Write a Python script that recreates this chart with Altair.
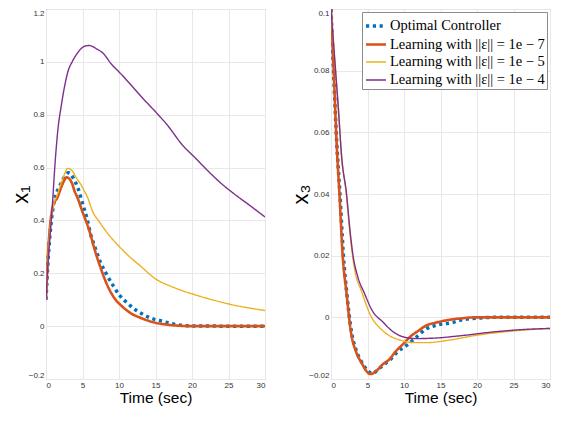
import altair as alt
import pandas as pd

series = [
    "Optimal Controller",
    "Learning with ||ε|| = 1e − 7",
    "Learning with ||ε|| = 1e − 5",
    "Learning with ||ε|| = 1e − 4",
]
colors = ["#0072BD", "#D95319", "#EDB120", "#7E2F8E"]
dashes = [[3.2, 3.6], [1, 0], [1, 0], [1, 0]]
widths = [3.5, 2.6, 1.4, 1.4]

# ---- x1 panel ----
opt_t1 = [0, 0.3, 0.7, 1.15, 1.82, 2.49, 3.1, 3.82, 4.4, 5.0, 5.64, 6.1, 6.76, 7.4, 8.3, 9.2, 10.1, 11.2, 12.3, 13.4, 14.3, 16, 17.8, 20, 25, 30]
opt_v1 = [0.1, 0.256, 0.39, 0.477, 0.526, 0.563, 0.58, 0.556, 0.52, 0.465, 0.404, 0.349, 0.294, 0.245, 0.196, 0.153, 0.116, 0.086, 0.061, 0.043, 0.031, 0.018, 0.006, 0.001, 0.0, 0.0]

r7_t1 = [0, 0.35, 0.62, 0.93, 1.6, 2.27, 2.84, 3.6, 3.87, 4.27, 4.98, 5.87, 6.76, 7.64, 8.53, 9.42, 10.5, 11.6, 13.0, 14.3, 15.1, 16.5, 18, 20, 25, 30]
r7_v1 = [0.1, 0.306, 0.397, 0.452, 0.489, 0.538, 0.563, 0.538, 0.514, 0.489, 0.434, 0.367, 0.281, 0.208, 0.147, 0.104, 0.073, 0.049, 0.031, 0.018, 0.012, 0.006, 0.002, 0.0, 0.0, 0.0]

r5_t1 = [0, 0.3, 0.6, 0.93, 1.6, 2.27, 3.02, 3.6, 4.27, 4.8, 5.2, 5.8, 6.3, 7.4, 8.5, 9.87, 11.2, 13.0, 15.1, 17, 18.7, 20.5, 22.2, 24, 25.8, 28, 30]
r5_v1 = [0.1, 0.27, 0.38, 0.445, 0.501, 0.556, 0.597, 0.587, 0.556, 0.535, 0.514, 0.48, 0.44, 0.391, 0.349, 0.306, 0.269, 0.226, 0.177, 0.152, 0.134, 0.118, 0.104, 0.091, 0.079, 0.068, 0.059]

r4_t1 = [0, 0.3, 0.6, 0.9, 1.2, 1.64, 2.08, 2.53, 2.97, 3.64, 4.3, 5.2, 5.87, 7.0, 7.8, 9.0, 10.0, 11.5, 13.0, 15.1, 16.5, 18.7, 20.5, 22.2, 24.0, 25.8, 28.0, 30.0]
r4_v1 = [0.1, 0.25, 0.36, 0.47, 0.6, 0.746, 0.832, 0.905, 0.96, 1.003, 1.033, 1.058, 1.062, 1.048, 1.033, 0.99, 0.962, 0.917, 0.87, 0.808, 0.765, 0.685, 0.635, 0.587, 0.54, 0.50, 0.455, 0.413]

# ---- x3 panel ----
opt_t3 = [0, 0.4, 0.8, 1.2, 1.7, 2.2, 2.75, 3.5, 4.2, 4.9, 5.7, 6.5, 7.3, 8.2, 9.1, 10.4, 11.5, 13, 14.5, 16.6, 18, 20.6, 22, 25, 30]
opt_v3 = [0.1, 0.077, 0.056, 0.041, 0.02, 0.007, -0.004, -0.011, -0.0145, -0.017, -0.0182, -0.0168, -0.0152, -0.0135, -0.0112, -0.009, -0.0068, -0.0038, -0.0025, -0.0017, -0.0008, -0.0002, 0, 0, 0]

r7_t3 = [0, 0.4, 0.8, 1.16, 1.6, 2.13, 2.67, 3.5, 4.2, 4.84, 5.4, 6.2, 7.07, 7.96, 8.84, 9.96, 10.8, 12, 13, 14.4, 15.3, 16.8, 18, 19.7, 25, 30]
r7_v3 = [0.1, 0.078, 0.055, 0.04, 0.02, 0.0078, -0.0038, -0.0116, -0.0148, -0.0174, -0.0184, -0.0174, -0.0153, -0.0137, -0.0111, -0.0085, -0.0064, -0.0043, -0.0027, -0.0017, -0.0012, -0.0006, -0.0003, 0, 0, 0]

r5_t3 = [0, 0.5, 1, 1.47, 2.1, 2.55, 3.0, 3.3, 4.13, 5.47, 6.84, 7.96, 9.5, 11.3, 13.1, 16.2, 19.7, 24.2, 30]
r5_v3 = [0.1, 0.084, 0.068, 0.0515, 0.04, 0.0283, 0.0192, 0.0148, 0.0088, 0.0004, -0.0038, -0.0059, -0.0074, -0.0082, -0.0082, -0.0074, -0.0059, -0.0046, -0.0036]

r4_t3 = [0, 0.5, 1, 1.47, 2.13, 2.58, 3.02, 3.69, 4.58, 5.69, 7.1, 8.4, 10, 11.7, 14.4, 18, 22, 26, 30]
r4_v3 = [0.1, 0.084, 0.068, 0.0518, 0.04, 0.0287, 0.02, 0.013, 0.0078, 0.002, -0.0015, -0.0045, -0.0064, -0.0069, -0.0067, -0.0059, -0.0048, -0.004, -0.0036]

x_ticks = [0, 5, 10, 15, 20, 25, 30]
y1_ticks = [-0.2, 0, 0.2, 0.4, 0.6, 0.8, 1, 1.2]
y3_ticks = [-0.02, 0, 0.02, 0.04, 0.06, 0.08, 0.1]


def frame(pairs):
    rows = []
    for k, (ts, vs) in enumerate(pairs):
        for i, (t, v) in enumerate(zip(ts, vs)):
            rows.append({"t": t, "v": v, "series": series[k], "k": k, "i": i})
    return pd.DataFrame(rows)


df1 = frame([(opt_t1, opt_v1), (r7_t1, r7_v1), (r5_t1, r5_v1), (r4_t1, r4_v1)])
df3 = frame([(opt_t3, opt_v3), (r7_t3, r7_v3), (r5_t3, r5_v3), (r4_t3, r4_v3)])

W, H = 219, 370


def panel(df, ydom, yticks, ytitle, legend):
    return alt.Chart(df).mark_line(interpolate="monotone", strokeCap="butt", clip=True).encode(
        x=alt.X("t:Q", scale=alt.Scale(domain=[0, 30], nice=False),
                axis=alt.Axis(values=x_ticks, title="Time (sec)", format="~g")),
        y=alt.Y("v:Q", scale=alt.Scale(domain=ydom, nice=False, zero=False),
                axis=alt.Axis(values=yticks, title=ytitle, format="~g", labelFlush=True)),
        color=alt.Color("series:N", scale=alt.Scale(domain=series, range=colors), legend=legend),
        strokeDash=alt.StrokeDash("series:N", scale=alt.Scale(domain=series, range=dashes), legend=legend),
        strokeWidth=alt.StrokeWidth("series:N", scale=alt.Scale(type="ordinal", domain=series, range=widths), legend=legend),
        order=alt.Order("i:Q"),
    ).properties(width=W, height=H)


leg = alt.Legend(title=None, orient="none", legendX=31, legendY=3, symbolType="stroke",
                 symbolSize=400, labelFont="Liberation Serif", labelFontSize=14.5,
                 labelColor="black", strokeColor="#8c8c8c", fillColor="white",
                 padding=2, rowPadding=-4, labelOffset=2, labelLimit=400)

left = panel(df1, [-0.2, 1.2], y1_ticks, "x₁", None)
right = panel(df3, [-0.02, 0.1], y3_ticks, "x₃", leg)

chart = alt.hconcat(left, right, spacing=23).resolve_scale(
    color="independent", strokeDash="independent", strokeWidth="independent"
).properties(padding={"left": 0, "top": 0, "right": 0, "bottom": 0}).configure_view(
    stroke="#8c8c8c", strokeWidth=1
).configure_axis(
    labelFont="Liberation Sans", labelFontSize=8, labelColor="#333333",
    titleFont="Liberation Sans", titleFontWeight="normal", titleColor="black",
    gridColor="#e8e8e8", domain=False, ticks=False, labelPadding=2,
).configure_axisX(titleFontSize=15.5, titlePadding=1).configure_axisY(
    titleFontSize=22, titlePadding=-4
)

chart.save("out.html", embed_options={"renderer": "svg", "actions": False})
